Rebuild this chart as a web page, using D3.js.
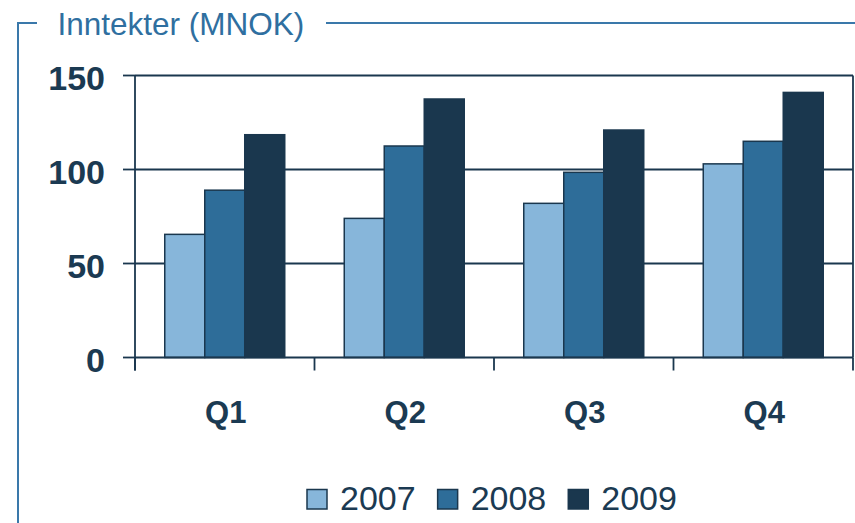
<!DOCTYPE html>
<html>
<head>
<meta charset="utf-8">
<script src="https://cdn.jsdelivr.net/npm/d3@7"></script>
<style>
  html, body { margin: 0; padding: 0; background: #ffffff; }
  svg { display: block; font-family: "Liberation Sans", Arial, sans-serif; }
</style>
</head>
<body>
<svg id="chart" width="855" height="523"></svg>
<script>
// ---- data ----
const quarters = ["Q1", "Q2", "Q3", "Q4"];
const years = ["2007", "2008", "2009"];
const values2007 = [65.5, 74, 82, 103];
const values2008 = [89, 112.5, 98.5, 115];
const values2009 = [118.5, 137.5, 121, 141];
const yTicks = [0, 50, 100, 150];
const titleText = "Inntekter (MNOK)";

const seriesValues = { "2007": values2007, "2008": values2008, "2009": values2009 };
const colors = { "2007": "#87b6da", "2008": "#2e6d99", "2009": "#1a374e" };
const dark = "#1a374e";
const textDark = "#1b3a52";
const frameBlue = "#3a78aa";

const svg = d3.select("#chart");

// ---- scales ----
const plot = { left: 135, right: 853, top: 75.5, bottom: 357.5 };
const x0 = d3.scaleBand().domain(quarters).range([plot.left, plot.right]).padding(0);
const x1 = d3.scaleBand().domain(years).range([0, x0.bandwidth()]).paddingInner(0).paddingOuter(0.744);
const y = d3.scaleLinear().domain([0, 150]).range([plot.bottom, plot.top]);

// ---- title frame ----
const fg = svg.append("g");
fg.append("path")
  .attr("d", "M18,523 L18,23 L37,23")
  .attr("fill", "none").attr("stroke", frameBlue).attr("stroke-width", 2);
fg.append("line")
  .attr("x1", 326).attr("x2", 855).attr("y1", 23).attr("y2", 23)
  .attr("stroke", frameBlue).attr("stroke-width", 2);
fg.append("text")
  .attr("x", 57.5).attr("y", 35)
  .attr("font-size", "31.5px")
  .attr("fill", "#2f6fa0")
  .text(titleText);

// ---- gridlines ----
svg.append("g").selectAll("line")
  .data(yTicks.filter(d => d > 0))
  .join("line")
  .attr("x1", plot.left).attr("x2", plot.right)
  .attr("y1", d => y(d)).attr("y2", d => y(d))
  .attr("stroke", dark).attr("stroke-width", 1.8);

// right border of plot area
svg.append("line")
  .attr("x1", plot.right).attr("x2", plot.right)
  .attr("y1", y(150)).attr("y2", y(0))
  .attr("stroke", dark).attr("stroke-width", 1.8);

// ---- bars ----
const groups = svg.append("g").selectAll("g")
  .data(quarters)
  .join("g")
  .attr("transform", q => `translate(${x0(q)},0)`);

groups.selectAll("rect")
  .data((q, i) => years.map(yr => ({ year: yr, value: seriesValues[yr][i] })))
  .join("rect")
  .attr("x", d => x1(d.year))
  .attr("y", d => y(d.value))
  .attr("width", x1.bandwidth())
  .attr("height", d => y(0) - y(d.value))
  .attr("fill", d => colors[d.year])
  .attr("stroke", dark)
  .attr("stroke-width", 1.5);

// ---- y axis ----
const yAxis = svg.append("g");
yAxis.append("line")
  .attr("x1", plot.left).attr("x2", plot.left)
  .attr("y1", y(150)).attr("y2", y(0) + 13)
  .attr("stroke", dark).attr("stroke-width", 1.8);
yAxis.selectAll("line.tick")
  .data(yTicks)
  .join("line")
  .attr("class", "tick")
  .attr("x1", plot.left - 12).attr("x2", plot.left)
  .attr("y1", d => y(d)).attr("y2", d => y(d))
  .attr("stroke", dark).attr("stroke-width", 1.8);
yAxis.selectAll("text")
  .data(yTicks)
  .join("text")
  .attr("x", 105)
  .attr("y", d => y(d) + 14.5)
  .attr("text-anchor", "end")
  .attr("font-size", "34px")
  .attr("font-weight", "bold")
  .attr("fill", textDark)
  .text(d => d);

// ---- x axis ----
const xAxis = svg.append("g");
xAxis.append("line")
  .attr("x1", plot.left).attr("x2", plot.right)
  .attr("y1", y(0)).attr("y2", y(0))
  .attr("stroke", dark).attr("stroke-width", 1.8);
const boundaries = quarters.map(q => x0(q)).concat([x0.range()[1]]);
xAxis.selectAll("line.tick")
  .data(boundaries)
  .join("line")
  .attr("class", "tick")
  .attr("x1", d => d).attr("x2", d => d)
  .attr("y1", y(0)).attr("y2", y(0) + 13)
  .attr("stroke", dark).attr("stroke-width", 1.8);
xAxis.selectAll("text")
  .data(quarters)
  .join("text")
  .attr("x", q => x0(q) + x0.bandwidth() / 2 + 1)
  .attr("y", 423)
  .attr("text-anchor", "middle")
  .attr("font-size", "31px")
  .attr("font-weight", "bold")
  .attr("fill", textDark)
  .text(q => q);

// ---- legend ----
const legend = svg.append("g");
let lx = 307;
years.forEach(yr => {
  legend.append("rect")
    .attr("x", lx).attr("y", 489.5)
    .attr("width", 20).attr("height", 19.5)
    .attr("fill", colors[yr])
    .attr("stroke", dark).attr("stroke-width", 1.5);
  const t = legend.append("text")
    .attr("x", lx + 33).attr("y", 509.5)
    .attr("font-size", "34px")
    .attr("fill", textDark)
    .text(yr);
  lx += 33 + t.node().getComputedTextLength() + 22;
});
</script>
</body>
</html>
